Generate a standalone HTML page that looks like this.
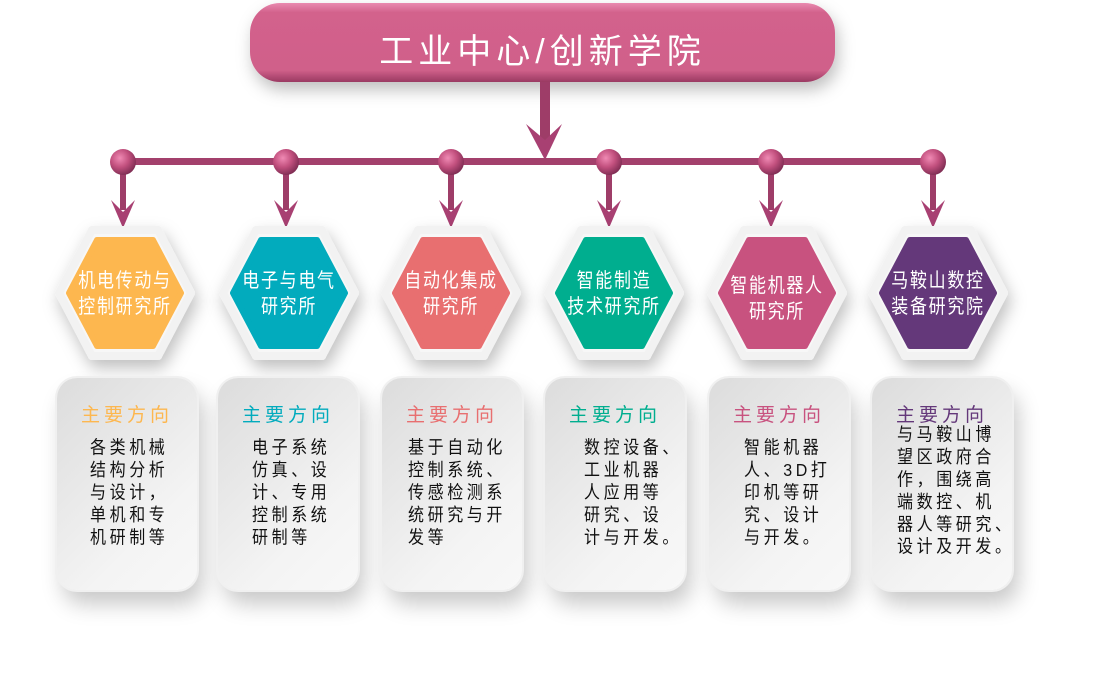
<!DOCTYPE html>
<html><head><meta charset="utf-8">
<style>
body{margin:0;width:1112px;height:688px;background:#fff;overflow:hidden;position:relative;font-family:"Liberation Sans","Noto Sans CJK SC",sans-serif}
.t{position:absolute;white-space:nowrap;transform-origin:left top}
.hx{position:absolute;color:#fff;font-size:20px;letter-spacing:2px;line-height:26px;text-align:center;width:160px}
.hx span{display:inline-block;transform:scaleX(0.85)}
.card{position:absolute;top:378px;width:140px;height:212px;border-radius:20px;background:linear-gradient(135deg,#dcdcdc,#f4f4f4 70%,#f8f8f8);box-shadow:0 0 0 2px #f0f0f0,6px 14px 22px rgba(0,0,0,0.22)}
.ct{position:absolute;top:22px;left:0;width:140px;text-align:center;font-size:19px;letter-spacing:4px}
.cb{position:absolute;top:62px;font-size:16px;line-height:20px;letter-spacing:3.6px;color:#111;white-space:pre;transform:scaleY(1.12);transform-origin:left top}
</style></head><body>
<svg width="1112" height="688" style="position:absolute;left:0;top:0">
<defs>
<linearGradient id="tb" x1="0" y1="0" x2="0" y2="1"><stop offset="0" stop-color="#e98ab0"/><stop offset="0.12" stop-color="#d3628c"/><stop offset="0.85" stop-color="#d0608a"/><stop offset="1" stop-color="#9a3a62"/></linearGradient>
<radialGradient id="ball" cx="0.38" cy="0.35" r="0.7"><stop offset="0" stop-color="#f08ab4"/><stop offset="0.5" stop-color="#c2507e"/><stop offset="1" stop-color="#7a2a50"/></radialGradient>
<filter id="sh" x="-30%" y="-30%" width="160%" height="170%"><feDropShadow dx="3" dy="8" stdDeviation="8" flood-opacity="0.25"/></filter>
</defs>
<rect x="250" y="3" width="585" height="79" rx="30" fill="url(#tb)" filter="url(#sh)"/>
<rect x="540" y="82" width="10" height="60" fill="#9e3d68"/>
<polygon points="526,124 545,140 562,124 545,160" fill="#a84072"/>
<rect x="123" y="158" width="810" height="7" fill="#a3406c"/>
<g id="arrs"></g>
</svg>
<div id="c"></div>
<script>
var xs=[123,286,451,609,771,933];
var hc=[125,289,451,614,777,938];
var col=["#fdb74f","#02abbd","#e86f70","#00ae8f","#c8527f","#64387a"];
var names=[["机电传动与","控制研究所"],["电子与电气","研究所"],["自动化集成","研究所"],["智能制造","技术研究所"],["智能机器人","研究所"],["马鞍山数控","装备研究院"]];
var cx=[57,218,382,545,709,872];
var body=["各类机械\n结构分析\n与设计，\n单机和专\n机研制等","电子系统\n仿真、设\n计、专用\n控制系统\n研制等","基于自动化\n控制系统、\n传感检测系\n统研究与开\n发等","数控设备、\n工业机器\n人应用等\n研究、设\n计与开发。","智能机器\n人、3D打\n印机等研\n究、设计\n与开发。","与马鞍山博\n望区政府合\n作，围绕高\n端数控、机\n器人等研究、\n设计及开发。"];
var bl=[90,252,408,584,744,897];
var bt=[60,60,60,60,60,47];
var s='';
function hex(c,cy,w,h,t){return (c-w)+','+cy+' '+(c-w+t)+','+(cy-h)+' '+(c+w-t)+','+(cy-h)+' '+(c+w)+','+cy+' '+(c+w-t)+','+(cy+h)+' '+(c-w+t)+','+(cy+h);}
for(var i=0;i<6;i++){var x=xs[i];
s+='<rect x="'+(x-3)+'" y="165" width="6" height="45" fill="#9e3d68"/>';
s+='<polygon points="'+(x-12)+',200 '+x+',212 '+(x+12)+',200 '+x+',228" fill="#a84072"/>';
s+='<circle cx="'+x+'" cy="162" r="13" fill="url(#ball)"/>';
var c=hc[i];
s+='<polygon points="'+hex(c,293,66,63,33)+'" fill="#f7f7f7" stroke="#f2f2f2" stroke-width="8" stroke-linejoin="round" filter="url(#sh)"/>';
s+='<polygon points="'+hex(c,293,56,53,28)+'" fill="'+col[i]+'" stroke="'+col[i]+'" stroke-width="6" stroke-linejoin="round"/>';
}
document.getElementById('arrs').innerHTML=s;
var h='';
for(var i=0;i<6;i++){
h+='<div class="hx" style="left:'+(hc[i]-80)+'px;top:'+(i==4?273:268)+'px"><span>'+names[i][0]+'</span><br><span>'+names[i][1]+'</span></div>';
h+='<div class="card" style="left:'+cx[i]+'px"><div class="ct" style="color:'+col[i]+'">主要方向</div><div class="cb" style="left:'+(bl[i]-cx[i])+'px;top:'+bt[i]+'px">'+body[i]+'</div></div>';
}
document.getElementById('c').innerHTML=h;
</script>
<div class="t" style="left:250px;top:24px;width:585px;text-align:center;color:#fff;font-size:34px;letter-spacing:5px;">工业中心/创新学院</div>
</body></html>
